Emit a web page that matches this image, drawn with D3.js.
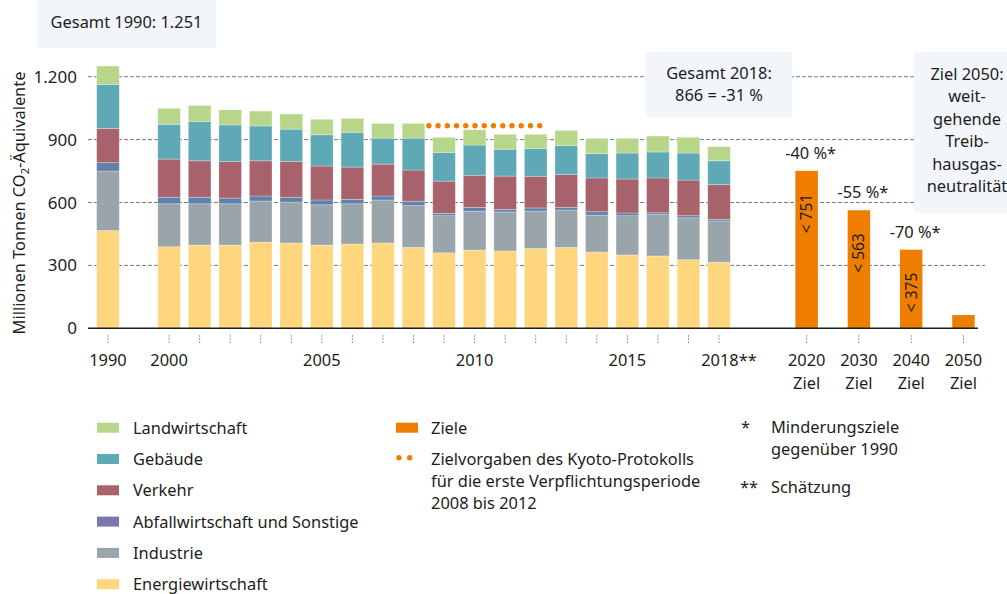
<!DOCTYPE html>
<html>
<head>
<meta charset="utf-8">
<script src="https://cdn.jsdelivr.net/npm/d3@7"></script>
<style>
  body { margin: 0; background: #fff; }
  svg { display: block; font-family: "Noto Sans", "Open Sans", sans-serif; }
</style>
</head>
<body>
<svg id="chart" width="1007" height="594"></svg>
<script>
// data (Mio. t CO2-Äq.)
var years = ["1990","2000","2001","2002","2003","2004","2005","2006","2007","2008","2009",
             "2010","2011","2012","2013","2014","2015","2016","2017","2018"];
var energie        = [466,389,397,397,411,407,397,402,407,386,360,373,369,381,386,364,350,345,327,315];
var industrie      = [284,205,197,197,196,195,192,192,205,199,177,186,186,178,178,176,187,197,200,197];
var abfall         = [ 40, 31, 31, 27, 24, 23, 23, 21, 19, 21, 11, 18, 12, 15, 13, 16, 13,  9, 10,  8];
var verkehr        = [163,182,174,174,168,170,162,154,152,149,154,153,159,151,156,161,162,166,170,165];
var gebaeude       = [210,166,188,175,166,155,149,166,124,152,137,144,128,133,138,116,124,124,129,114];
var landwirtschaft = [ 88, 76, 76, 72, 71, 72, 74, 66, 70, 70, 72, 73, 71, 67, 73, 73, 70, 76, 75, 67];

var sectors = ["energie","industrie","abfall","verkehr","gebaeude","landwirtschaft"];
var sectorNames = ["Energiewirtschaft","Industrie","Abfallwirtschaft und Sonstige","Verkehr","Gebäude","Landwirtschaft"];
var sectorColors = ["#fed67d","#99a4ab","#5e80ab","#a8626b","#5fa9b7","#b7d689"];
var legendColors = ["#fed67d","#99a4ab","#7b78b0","#a8626b","#5fa9b7","#b7d689"];

var targetYears  = ["2020","2030","2040","2050"];
var targetValues = [751, 563, 375, 63];
var targetPct    = ["-40 %*","-55 %*","-70 %*",""];

var kyotoValue = 966;
var yTicks = [0, 300, 600, 900, 1200];
var labelledYears = {"1990":"1990","2000":"2000","2005":"2005","2010":"2010","2015":"2015","2018":"2018**"};

var orange = "#ef7d00";
var boxFill = "#f2f6fb";
var ink = "#1d1d1b";
var fs = 16.4;

var svg = d3.select("#chart");

var table = years.map(function(y, i){
  return {year:y, energie:energie[i], industrie:industrie[i], abfall:abfall[i],
          verkehr:verkehr[i], gebaeude:gebaeude[i], landwirtschaft:landwirtschaft[i]};
});

// 1990, an empty slot, then 2000..2018
var slots = ["1990","gap"].concat(years.slice(1));
var x = d3.scaleBand().domain(slots).range([92.7, 734.3]).paddingInner(0.26).paddingOuter(0.13);
var xt = d3.scaleBand().domain(targetYears).range([780.5, 989.6]).paddingInner(0.57).paddingOuter(0.285);
var y = d3.scaleLinear().domain([0, 1200]).range([328.3, 76.7]);

// gridlines first, the boxes cover them
var grid = svg.append("g");
grid.selectAll("line").data(yTicks.slice(1)).join("line")
  .attr("x1", 88).attr("x2", 985)
  .attr("y1", function(d){ return y(d); }).attr("y2", function(d){ return y(d); })
  .attr("stroke", "#7a7a7a").attr("stroke-width", 1).attr("stroke-dasharray", "4,2");

function box(x0, y0, w, h, lines, cx, base0, lh) {
  var g = svg.append("g");
  g.append("rect").attr("x", x0).attr("y", y0).attr("width", w).attr("height", h).attr("fill", boxFill);
  g.selectAll("text").data(lines).join("text")
    .attr("x", cx).attr("y", function(d, i){ return base0 + i*lh; })
    .attr("text-anchor", "middle").attr("font-size", fs).attr("fill", ink)
    .text(function(d){ return d; });
}
box(37, 0, 179, 48, ["Gesamt 1990: 1.251"], 126.5, 28, 0);
box(646, 52, 146, 65, ["Gesamt 2018:", "866 = -31 %"], 719, 79, 22);
box(914, 52, 100, 161, ["Ziel 2050:", "weit-", "gehende", "Treib-", "hausgas-", "neutralität"], 967, 80, 22.4);

// stacked bars
var stack = d3.stack().keys(sectors);
var series = stack(table);
var bars = svg.append("g");
bars.selectAll("g").data(series).join("g")
  .attr("fill", function(d, i){ return sectorColors[i]; })
  .selectAll("rect").data(function(d){ return d; }).join("rect")
    .attr("x", function(d){ return x(d.data.year); })
    .attr("width", x.bandwidth())
    .attr("y", function(d){ return y(d[1]); })
    .attr("height", function(d){ return y(d[0]) - y(d[1]); })
    .attr("stroke", "rgba(255,255,255,0.35)").attr("stroke-width", 0.8);

// target bars
var tg = svg.append("g");
tg.selectAll("rect").data(targetValues).join("rect")
  .attr("x", function(d, i){ return xt(targetYears[i]); })
  .attr("width", xt.bandwidth())
  .attr("y", function(d){ return y(d); })
  .attr("height", function(d){ return y(0) - y(d); })
  .attr("fill", orange);
tg.selectAll("text.pct").data(targetPct).join("text").attr("class", "pct")
  .attr("x", function(d, i){ return xt(targetYears[i]) + xt.bandwidth()/2 + 4; })
  .attr("y", function(d, i){ return y(targetValues[i]) - 12; })
  .attr("text-anchor", "middle").attr("font-size", fs).attr("fill", ink)
  .text(function(d){ return d; });
tg.selectAll("text.val").data(targetValues.slice(0, 3)).join("text").attr("class", "val")
  .attr("transform", function(d, i){
    return "translate(" + (xt(targetYears[i]) + xt.bandwidth()/2 + 5.5) + "," + (y(d) + 23) + ") rotate(-90)";
  })
  .attr("text-anchor", "end").attr("font-size", 15.5).attr("fill", ink)
  .text(function(d){ return "< " + d; });

// Kyoto target dots 2008-2012
var k0 = x("2008") + x.bandwidth() + 4, k1 = x("2012") + x.bandwidth()/2 + 4;
var kdots = d3.range(13).map(function(i){ return k0 + i*(k1 - k0)/12; });
svg.append("g").selectAll("circle").data(kdots).join("circle")
  .attr("cx", function(d){ return d; }).attr("cy", y(kyotoValue))
  .attr("r", 2.7).attr("fill", orange);

// axis line
svg.append("line").attr("x1", 88).attr("x2", 978).attr("y1", y(0)).attr("y2", y(0))
  .attr("stroke", ink).attr("stroke-width", 1.6);

// y labels
svg.append("g").selectAll("text").data(yTicks).join("text")
  .attr("x", 77).attr("y", function(d){ return y(d) + 6; })
  .attr("text-anchor", "end").attr("font-size", 17).attr("fill", ink)
  .text(function(d){ return d3.format(",")(d).replace(",", "."); });

var yl = svg.append("text").attr("transform", "translate(25,203) rotate(-90)")
  .attr("text-anchor", "middle").attr("font-size", fs).attr("fill", ink);
yl.append("tspan").text("Millionen Tonnen CO");
yl.append("tspan").attr("font-size", 11).attr("dy", 4).text("2");
yl.append("tspan").attr("dy", -4).text("-Äquivalente");

// x ticks and labels
var ticksX = years.map(function(d){ return x(d) + x.bandwidth()/2; })
  .concat(targetYears.map(function(d){ return xt(d) + xt.bandwidth()/2; }));
svg.append("g").selectAll("line").data(ticksX).join("line")
  .attr("x1", function(d){ return d; }).attr("x2", function(d){ return d; })
  .attr("y1", 335).attr("y2", 344)
  .attr("stroke", "#9a9a9a").attr("stroke-width", 1).attr("stroke-dasharray", "2,1");

svg.append("g").selectAll("text").data(Object.keys(labelledYears)).join("text")
  .attr("x", function(d){ return x(d) + x.bandwidth()/2 + (d === "2018" ? 10 : 0); })
  .attr("y", 366).attr("text-anchor", "middle").attr("font-size", fs).attr("fill", ink)
  .text(function(d){ return labelledYears[d]; });

var tl = svg.append("g").selectAll("text").data(targetYears).join("text")
  .attr("text-anchor", "middle").attr("font-size", fs).attr("fill", ink);
tl.append("tspan").attr("x", function(d){ return xt(d) + xt.bandwidth()/2; }).attr("y", 366).text(function(d){ return d; });
tl.append("tspan").attr("x", function(d){ return xt(d) + xt.bandwidth()/2; }).attr("y", 389).text("Ziel");

// legend
var leg = svg.append("g");
var legOrder = [5, 4, 3, 2, 1, 0];
legOrder.forEach(function(k, r){
  var yy = 422.7 + r*31.3;
  leg.append("rect").attr("x", 97).attr("y", yy).attr("width", 22).attr("height", 10).attr("fill", legendColors[k]);
  leg.append("text").attr("x", 133).attr("y", yy + 11).attr("font-size", fs).attr("fill", ink).text(sectorNames[k]);
});
leg.append("rect").attr("x", 396).attr("y", 422.7).attr("width", 22).attr("height", 10).attr("fill", orange);
leg.append("text").attr("x", 431).attr("y", 433.7).attr("font-size", fs).attr("fill", ink).text("Ziele");
[399, 409.7].forEach(function(cx){
  leg.append("circle").attr("cx", cx).attr("cy", 457.7).attr("r", 2.7).attr("fill", orange);
});
["Zielvorgaben des Kyoto-Protokolls", "für die erste Verpflichtungsperiode", "2008 bis 2012"].forEach(function(t, i){
  leg.append("text").attr("x", 431).attr("y", 465 + i*22).attr("font-size", fs).attr("fill", ink).text(t);
});
leg.append("text").attr("x", 741).attr("y", 433).attr("font-size", fs).attr("fill", ink).text("*");
leg.append("text").attr("x", 771).attr("y", 433).attr("font-size", fs).attr("fill", ink).text("Minderungsziele");
leg.append("text").attr("x", 771).attr("y", 455).attr("font-size", fs).attr("fill", ink).text("gegenüber 1990");
leg.append("text").attr("x", 740).attr("y", 493).attr("font-size", fs).attr("fill", ink).text("**");
leg.append("text").attr("x", 771).attr("y", 493).attr("font-size", fs).attr("fill", ink).text("Schätzung");
</script>
</body>
</html>
